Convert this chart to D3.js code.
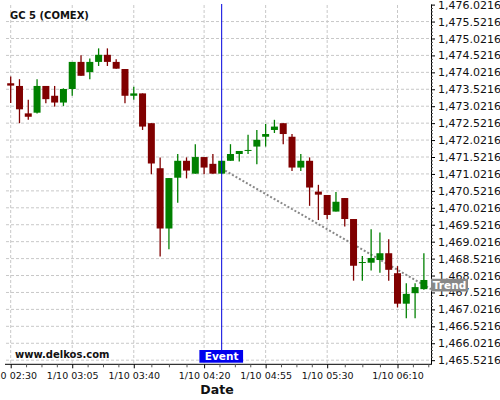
<!DOCTYPE html>
<html>
<head>
<meta charset="utf-8">
<script src="https://cdn.jsdelivr.net/npm/d3@7"></script>
<style>
body { margin: 0; background: #fff; }
svg { font-family: "DejaVu Sans", sans-serif; }
</style>
</head>
<body>
<script>
// 5 minute candles, 1/10
var times = ["02:30","02:35","02:40","02:45","02:50","02:55","03:00","03:05","03:10","03:15",
    "03:20","03:25","03:30","03:35","03:40","03:45","03:50","03:55","04:00","04:05",
    "04:10","04:15","04:20","04:25","04:30","04:35","04:40","04:45","04:50","04:55",
    "05:00","05:05","05:10","05:15","05:20","05:25","05:30","05:35","05:40","05:45",
    "05:50","05:55","06:00","06:05","06:10","06:15","06:20","06:25"];
var opens = [1473.70,1473.62,1472.81,1472.83,1473.62,1473.33,1473.13,1473.53,1474.33,1474.03,
    1474.33,1474.54,1474.33,1474.12,1473.33,1473.40,1472.52,1471.19,1469.41,1470.91,
    1471.41,1471.03,1471.52,1471.32,1471.03,1471.41,1471.61,1471.72,1471.83,1472.12,
    1472.32,1472.52,1472.12,1471.21,1471.41,1470.50,1470.40,1469.91,1470.31,1469.69,
    1468.40,1468.40,1468.48,1468.68,1468.09,1467.19,1467.50,1467.62];
var highs = [1473.90,1473.82,1473.21,1473.82,1473.62,1473.62,1473.55,1474.33,1474.53,1474.43,
    1474.73,1474.73,1474.41,1474.12,1473.60,1473.40,1472.52,1471.51,1470.90,1471.61,
    1471.51,1471.90,1471.52,1471.61,1471.41,1471.90,1471.70,1472.18,1472.32,1472.50,
    1472.62,1472.52,1472.20,1471.61,1471.51,1470.70,1470.40,1470.49,1470.31,1469.69,
    1468.60,1469.39,1469.29,1469.09,1468.30,1467.79,1467.79,1468.68];
var lows = [1473.12,1472.52,1472.62,1472.81,1473.11,1473.01,1473.03,1473.33,1473.92,1473.82,
    1474.21,1474.21,1474.13,1473.11,1473.21,1472.32,1471.01,1468.58,1468.80,1470.17,
    1470.89,1471.03,1471.01,1471.03,1471.03,1471.41,1471.39,1471.61,1471.31,1471.83,
    1472.23,1471.90,1471.11,1471.11,1470.08,1469.66,1469.68,1469.91,1469.47,1467.87,
    1467.87,1468.17,1468.10,1467.87,1467.08,1466.76,1466.76,1467.60];
var closes = [1473.63,1472.93,1472.71,1473.62,1473.23,1473.13,1473.53,1474.33,1473.92,1474.33,
    1474.54,1474.33,1474.13,1473.33,1473.40,1472.42,1471.33,1469.41,1470.90,1471.41,
    1471.12,1471.52,1471.21,1471.03,1471.41,1471.61,1471.70,1471.73,1472.03,1472.20,
    1472.42,1472.20,1471.21,1471.41,1470.62,1470.41,1469.81,1470.20,1469.69,1468.31,
    1468.42,1468.54,1468.68,1468.19,1467.19,1467.48,1467.68,1467.89];

var xTickTimes = ["02:30","03:05","03:40","04:20","04:55","05:30","06:10"];
var yTickValues = [1465.5216,1466.0216,1466.5216,1467.0216,1467.5216,1468.0216,1468.5216,
    1469.0216,1469.5216,1470.0216,1470.5216,1471.0216,1471.5216,1472.0216,1472.5216,
    1473.0216,1473.5216,1474.0216,1474.5216,1475.0216,1475.5216,1476.0216];

var eventTime = "04:30";
var trendStart = { time: "04:30", value: 1471.18 };
var trendEnd = { time: "06:29:03", value: 1467.62 };
var trendLabelValue = 1467.74;

var width = 500,
    height = 400,
    plotLeft = 6,
    plotRight = 431,
    plotTop = 4,
    plotBottom = 364.3,
    upColor = "#008000",
    downColor = "#800000",
    gridColor = "#c8c8c8";

function toDate(s) {
    var p = s.split(":");
    return new Date(2020, 0, 10, +p[0], +p[1], p[2] ? +p[2] : 0);
}

var candles = times.map(function(t, i) {
    return { date: toDate(t), open: opens[i], high: highs[i], low: lows[i], close: closes[i] };
});

var x = d3.scaleTime()
    .domain([toDate("02:27:20"), toDate("06:29:03")])
    .range([plotLeft, plotRight]);

var y = d3.scaleLinear()
    .domain([1465.40, 1476.04])
    .range([plotBottom, plotTop]);

var svg = d3.select("body")
    .append("svg")
    .attr("width", width)
    .attr("height", height);

// grid
var xTickDates = xTickTimes.map(toDate);
svg.append("g")
    .selectAll("line")
    .data(xTickDates)
    .join("line")
    .attr("x1", function(d) { return x(d); })
    .attr("x2", function(d) { return x(d); })
    .attr("y1", plotTop + 1)
    .attr("y2", plotBottom)
    .attr("stroke", gridColor)
    .attr("stroke-dasharray", "3,2");

svg.append("g")
    .selectAll("line")
    .data(yTickValues.filter(function(v) { return y(v) > plotTop + 2; }))
    .join("line")
    .attr("x1", plotLeft)
    .attr("x2", plotRight)
    .attr("y1", function(d) { return y(d); })
    .attr("y2", function(d) { return y(d); })
    .attr("stroke", gridColor)
    .attr("stroke-dasharray", "3,2");

// minor ticks
var xMinor = [];
for (var i = 0; i < xTickDates.length - 1; i++) {
    var a = +xTickDates[i], b = +xTickDates[i + 1];
    for (var k = 1; k < 4; k++) xMinor.push(new Date(a + (b - a) * k / 4));
}
var lastMajor = +xTickDates[xTickDates.length - 1];
for (var k = 1; k < 3; k++) xMinor.push(new Date(lastMajor + k * 8.75 * 60000));

var yMinor = [];
for (var i = 0; i < yTickValues.length - 1; i++) {
    for (var k = 1; k < 5; k++) yMinor.push(yTickValues[i] + k * 0.1);
}

// trend line
svg.append("line")
    .attr("x1", x(toDate(trendStart.time)))
    .attr("y1", y(trendStart.value))
    .attr("x2", x(toDate(trendEnd.time)))
    .attr("y2", y(trendEnd.value))
    .attr("stroke", "#888")
    .attr("stroke-width", 2)
    .attr("stroke-dasharray", "2,2");

// candles
var candle = svg.append("g")
    .selectAll("g")
    .data(candles)
    .join("g")
    .attr("transform", function(d) { return "translate(" + x(d.date) + ",0)"; });

candle.append("line")
    .attr("y1", function(d) { return y(d.high); })
    .attr("y2", function(d) { return y(d.low); })
    .attr("stroke", function(d) { return d.close >= d.open ? upColor : downColor; })
    .attr("stroke-width", 1.3);

candle.append("rect")
    .attr("x", -3.5)
    .attr("width", 7)
    .attr("y", function(d) { return y(Math.max(d.open, d.close)); })
    .attr("height", function(d) { return Math.max(1, Math.abs(y(d.open) - y(d.close))); })
    .attr("fill", function(d) { return d.close >= d.open ? upColor : downColor; });

// event marker
var ex = x(toDate(eventTime));
svg.append("line")
    .attr("x1", ex)
    .attr("x2", ex)
    .attr("y1", plotTop)
    .attr("y2", 350)
    .attr("stroke", "#0000dd")
    .attr("stroke-width", 1);

// axes
var yAxis = svg.append("g")
    .attr("transform", "translate(" + plotRight + ",0)")
    .call(d3.axisRight(y)
        .tickValues(yTickValues)
        .tickFormat(d3.format(",.4f"))
        .tickSize(4)
        .tickSizeOuter(0)
        .tickPadding(3));
yAxis.selectAll("text")
    .style("font-size", "11px")
    .style("font-family", "DejaVu Sans")
    .attr("fill", "#111");
yAxis.select(".domain").attr("stroke", "#000");

svg.append("g")
    .attr("transform", "translate(" + plotRight + ",0)")
    .call(d3.axisRight(y).tickValues(yMinor).tickFormat("").tickSize(2).tickSizeOuter(0))
    .call(function(g) { g.select(".domain").remove(); })
    .selectAll("line").attr("stroke", "#555");

var xAxis = svg.append("g")
    .attr("transform", "translate(0," + plotBottom + ")")
    .call(d3.axisBottom(x)
        .tickValues(xTickDates)
        .tickFormat(d3.timeFormat("%-m/%d %H:%M"))
        .tickSize(4)
        .tickSizeOuter(0)
        .tickPadding(4));
xAxis.selectAll("text")
    .style("font-size", "9.5px")
    .style("font-family", "DejaVu Sans")
    .attr("fill", "#111");
xAxis.select(".domain").attr("stroke", "#000").attr("d", "M" + (plotLeft - 1) + ",0H" + plotRight);

svg.append("g")
    .attr("transform", "translate(0," + plotBottom + ")")
    .call(d3.axisBottom(x).tickValues(xMinor.filter(function(d) { return x(d) <= plotRight; })).tickFormat("").tickSize(3).tickSizeOuter(0))
    .call(function(g) { g.select(".domain").remove(); })
    .selectAll("line").attr("stroke", "#555");

// labels
svg.append("text")
    .attr("x", 10)
    .attr("y", 19)
    .style("font-size", "10px")
    .style("font-weight", "bold")
    .attr("fill", "#111")
    .text("GC 5 (COMEX)");

svg.append("text")
    .attr("x", 15)
    .attr("y", 357.5)
    .style("font-size", "10px")
    .style("font-weight", "bold")
    .attr("fill", "#111")
    .text("www.delkos.com");

svg.append("text")
    .attr("x", 217)
    .attr("y", 394)
    .attr("text-anchor", "middle")
    .style("font-size", "12.5px")
    .style("font-weight", "bold")
    .attr("fill", "#111")
    .text("Date");

svg.append("rect")
    .attr("x", ex - 22.3)
    .attr("y", 350)
    .attr("width", 43.7)
    .attr("height", 12.7)
    .attr("fill", "#0000ee");
svg.append("text")
    .attr("x", ex)
    .attr("y", 360)
    .attr("text-anchor", "middle")
    .style("font-size", "10.5px")
    .style("font-weight", "bold")
    .attr("fill", "#fff")
    .text("Event");

var ty = y(trendLabelValue);
svg.append("rect")
    .attr("x", plotRight)
    .attr("y", ty - 6.3)
    .attr("width", 37)
    .attr("height", 12.7)
    .attr("fill", "#888");
svg.append("text")
    .attr("x", plotRight + 18.5)
    .attr("y", ty + 3.8)
    .attr("text-anchor", "middle")
    .style("font-size", "10.5px")
    .style("font-weight", "bold")
    .attr("fill", "#fff")
    .text("Trend");
</script>
</body>
</html>
